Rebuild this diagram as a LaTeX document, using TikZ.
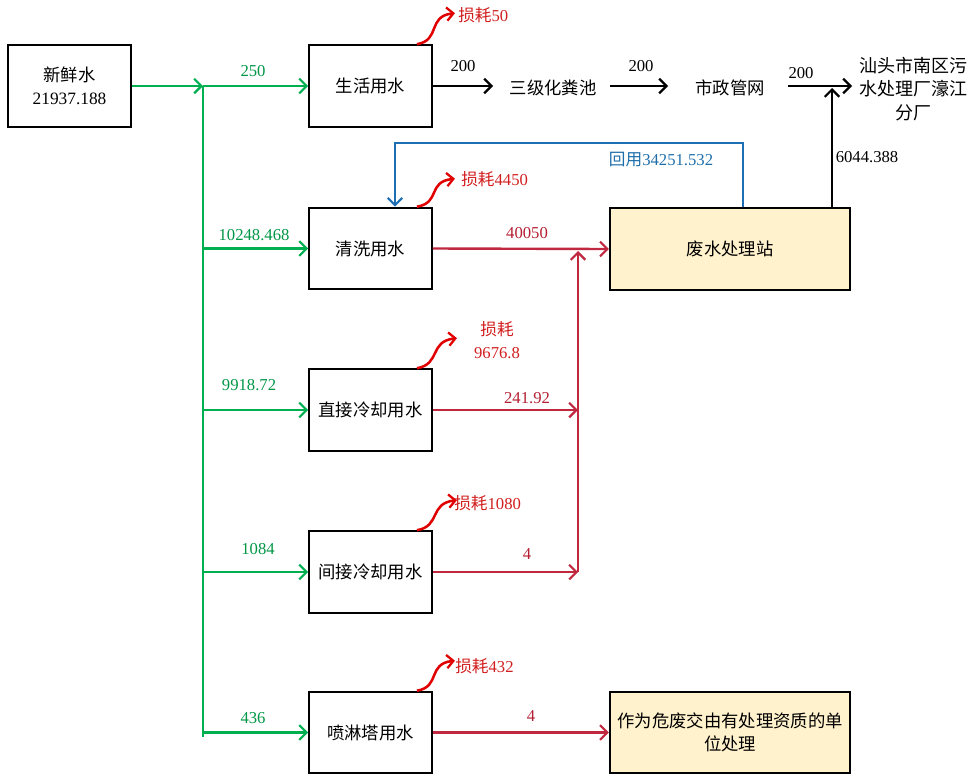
\documentclass[tikz,border=0pt]{standalone}
\usepackage{fontspec}
\setmainfont{Liberation Serif}
\newfontfamily\cjk{Noto Sans CJK SC}
\usetikzlibrary{arrows.meta}
\definecolor{gline}{RGB}{0,176,80}
\definecolor{gtext}{RGB}{0,150,70}
\definecolor{rline}{RGB}{192,40,64}
\definecolor{rtext}{RGB}{180,30,50}
\definecolor{lossline}{RGB}{225,0,0}
\definecolor{losstext}{RGB}{210,30,30}
\definecolor{bline}{RGB}{30,110,180}
\definecolor{btext}{RGB}{30,110,170}
\definecolor{yfill}{RGB}{255,242,204}
\newcommand{\zhtxt}[1]{{\cjk #1}}
\begin{document}
\begin{tikzpicture}[x=0.75pt,y=-0.75pt,
  box/.style={draw, line width=1.7pt, minimum width=92pt, minimum height=61pt, inner sep=0pt, align=center, font=\fontsize{13}{17}\selectfont},
  ybox/.style={box, fill=yfill, minimum width=180pt},
  plain/.style={inner sep=0pt, align=center, font=\fontsize{13}{17}\selectfont},
  lbl/.style={inner sep=0pt, align=center, font=\fontsize{12.5}{17}\selectfont},
  tip/.style={-{Straight Barb[length=5.5pt,width=11pt,line width=1.6pt]}},
  garrow/.style={tip, draw=gline, line width=1.9pt},
  gline/.style={draw=gline, line width=1.9pt},
  rarrow/.style={tip, draw=rline, line width=1.8pt},
  karrow/.style={tip, draw=black, line width=1.6pt},
  barrow/.style={tip, draw=bline, line width=1.6pt},
  loss/.style={-{Straight Barb[length=5pt,width=10pt,line width=1.7pt]}, draw=lossline, line width=1.9pt},
  ]
\useasboundingbox (0,0) rectangle (967,775);

% boxes
\node[box] (fresh) at (69.5,86) {\zhtxt{新鲜水}\\21937.188};
\node[box] (live) at (370.5,86) {\zhtxt{生活用水}};
\node[box] (wash) at (370.5,248.5) {\zhtxt{清洗用水}};
\node[box] (direct) at (370.5,410) {\zhtxt{直接冷却用水}};
\node[box] (indirect) at (370.5,572) {\zhtxt{间接冷却用水}};
\node[box] (spray) at (370.5,732.5) {\zhtxt{喷淋塔用水}};
\node[ybox] (wwtp) at (730,249) {\zhtxt{废水处理站}};
\node[ybox] (haz) at (730,732.5) {\zhtxt{作为危废交由有处理资质的单}\\\zhtxt{位处理}};

% plain text nodes
\node[plain] (septic) at (553,88) {\zhtxt{三级化粪池}};
\node[plain] (muni) at (730,88) {\zhtxt{市政管网}};
\node[plain, font=\fontsize{13.5}{17.5}\selectfont] (plant) at (913,89) {\zhtxt{汕头市南区污}\\\zhtxt{水处理厂濠江}\\\zhtxt{分厂}};

% coordinates
\coordinate (j0) at (203,86);
\coordinate (jbot) at (203,737);
\coordinate (j1) at (203,248.5);
\coordinate (j2) at (203,410);
\coordinate (j3) at (203,572);
\coordinate (j4) at (203,732.5);
\coordinate (s1) at (493,86);
\coordinate (s2a) at (610,86);
\coordinate (s2b) at (668,86);
\coordinate (s3a) at (788,86);
\coordinate (s3b) at (852,86);
\coordinate (up) at (832,88);
\coordinate (bt) at (743,143);
\coordinate (bw) at (395,143);
\coordinate (ctop) at (578,251);
\coordinate (c3) at (578,410);
\coordinate (c4) at (578,572);

% green supply
\draw[garrow] (fresh.east) -- (j0);
\draw[garrow] (j0) -- (live.west);
\draw[gline] (j0) -- (jbot);
\draw[garrow] (j1) -- (wash.west);
\draw[garrow] (j2) -- (direct.west);
\draw[garrow] (j3) -- (indirect.west);
\draw[garrow] (j4) -- (spray.west);
\node[lbl, text=gtext] at (253,71) {250};
\node[lbl, text=gtext] at (254,235) {10248.468};
\node[lbl, text=gtext] at (249,385) {9918.72};
\node[lbl, text=gtext] at (258,549) {1084};
\node[lbl, text=gtext] at (253,718) {436};

% black chain
\draw[karrow] (live.east) -- (s1);
\draw[karrow] (s2a) -- (s2b);
\draw[karrow] (s3a) -- (s3b);
\draw[karrow] (wwtp.north -| up) -- (up);
\node[lbl] at (463,66) {200};
\node[lbl] at (641,66) {200};
\node[lbl] at (801,73) {200};
\node[lbl] at (867,157) {6044.388};

% blue reuse
\draw[barrow] (wwtp.north -| bt) -- (bt) -- (bw) -- (wash.north -| bw);
\node[lbl, text=btext] at (661,160) {\zhtxt{回用}34251.532};

% red wastewater
\draw[rarrow] (wash.east) -- (wwtp.west);
\draw[rarrow] (c4) -- (ctop);
\draw[rarrow] (direct.east) -- (c3);
\draw[rarrow] (indirect.east) -- (c4);
\draw[rarrow] (spray.east) -- (haz.west);
\node[lbl, text=rtext] at (527,233) {40050};
\node[lbl, text=rtext] at (527,398) {241.92};
\node[lbl, text=rtext] at (527,554) {4};
\node[lbl, text=rtext] at (531,716) {4};

% losses
\draw[loss] ([xshift=-12pt]live.north east) .. controls +(24,-4) and +(-28,3) .. +(38,-31);
\node[lbl, text=losstext, anchor=west] at (458,15) {\zhtxt{损耗}50};
\draw[loss] ([xshift=-12pt]wash.north east) .. controls +(24,-4) and +(-28,3) .. +(38,-28);
\node[lbl, text=losstext, anchor=west] at (461,179) {\zhtxt{损耗}4450};
\draw[loss] ([xshift=-12pt]direct.north east) .. controls +(24,-4) and +(-28,3) .. +(40,-30);
\node[lbl, text=losstext] at (497,340) {\zhtxt{损耗}\\9676.8};
\draw[loss] ([xshift=-12pt]indirect.north east) .. controls +(24,-4) and +(-28,3) .. +(40,-30);
\node[lbl, text=losstext, anchor=west] at (454,503) {\zhtxt{损耗}1080};
\draw[loss] ([xshift=-12pt]spray.north east) .. controls +(24,-4) and +(-28,3) .. +(38,-30);
\node[lbl, text=losstext, anchor=west] at (455,666) {\zhtxt{损耗}432};
\end{tikzpicture}
\end{document}
